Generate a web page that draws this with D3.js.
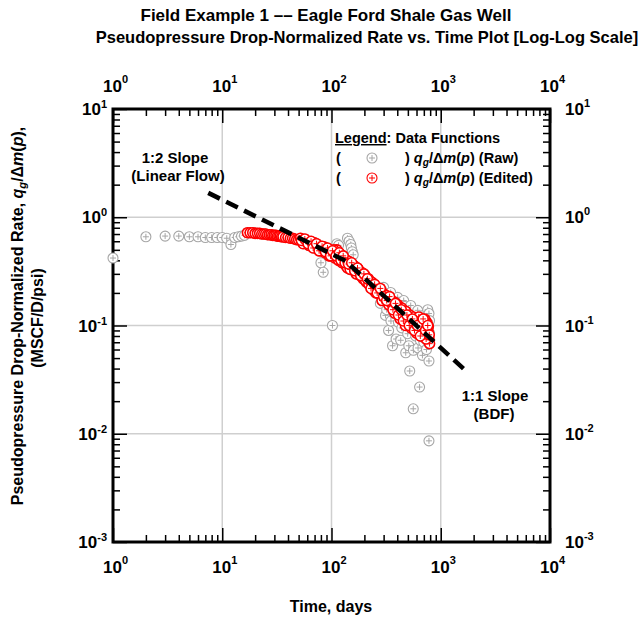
<!DOCTYPE html>
<html>
<head>
<meta charset="utf-8">
<script src="https://cdn.jsdelivr.net/npm/d3@7"></script>
<style>
  body { margin: 0; background: #fff; }
  svg { display: block; font-family: "Liberation Sans", Arial, sans-serif; font-weight: bold; }
</style>
</head>
<body>
<div id="chart"></div>
<script>
'use strict';

// ---- data ----
// raw points that were not kept in the edited set
var rawT = [1, 2, 3, 4, 5, 6, 7, 8, 9, 10, 11, 12, 13, 14, 15, 16,
  80, 84, 102, 112, 116, 140, 145, 150, 152, 155, 158,
  280, 290, 300, 312, 320, 333, 348, 350, 362, 370, 390, 403, 410, 430, 440, 458, 470, 478, 498, 510, 520, 531, 550,
  560, 562, 590, 615, 620, 640, 650, 660, 680, 698, 700, 720, 740, 760, 770, 780, 780, 780, 790, 790];
var rawQ = [0.42, 0.66, 0.67, 0.67, 0.66, 0.66, 0.65, 0.65, 0.65, 0.65, 0.64, 0.56, 0.65, 0.66, 0.67, 0.68,
  0.38, 0.31, 0.10, 0.57, 0.55, 0.64, 0.60, 0.56, 0.52, 0.48, 0.45,
  0.16, 0.19, 0.225, 0.124, 0.14, 0.090, 0.202, 0.11, 0.065, 0.13, 0.075, 0.182, 0.107, 0.073, 0.095, 0.170, 0.15, 0.056, 0.084, 0.065, 0.038, 0.153, 0.11,
  0.017, 0.059, 0.08, 0.138, 0.062, 0.027, 0.073, 0.105, 0.053, 0.124, 0.07, 0.090, 0.06, 0.14, 0.10, 0.129, 0.047, 0.0086, 0.111, 0.085];

// edited points
var editedT = [17, 18, 19, 20, 21, 22, 23, 24, 25, 26, 27, 28, 29, 30, 31, 32, 33, 34, 35, 36, 38, 40, 42, 44, 46, 48, 50,
  52, 54, 56, 58, 60, 63, 66, 69, 72, 75, 78, 81, 84, 87, 90, 93, 96, 100, 104, 108, 112, 116, 120, 125, 130, 135, 140,
  145, 150, 155, 160, 165, 170, 176, 182, 188, 195, 202, 210, 218, 226, 235, 245, 255, 265, 275, 285, 295, 305, 315, 330,
  345, 360, 375, 390, 405, 420, 440, 460, 480, 500, 520, 540, 560, 580, 600, 620, 640, 660, 680, 700, 720, 740, 760,
  780, 790, 770, 750, 730, 710,
  55, 62, 70, 78, 86, 95, 105, 115, 125, 138, 148, 158, 168, 180, 192, 205, 220, 238, 255, 272, 290, 310, 335, 355,
  380, 400, 425, 450, 475, 505, 535, 565, 600, 630, 665, 700, 735, 770,
  53, 57, 61, 65, 68, 73, 77, 82, 88, 92, 98, 102, 110, 118, 122, 128, 133, 143, 153, 163, 173, 185, 198, 213, 230,
  248, 262, 280, 300, 320, 340, 365, 385, 410, 435, 455, 490, 515, 550, 575, 610, 650, 690, 725, 760, 785];
var editedQ = [0.72, 0.72, 0.72, 0.71, 0.71, 0.71, 0.70, 0.70, 0.70, 0.69, 0.69, 0.69, 0.68, 0.68, 0.68, 0.67, 0.67, 0.67, 0.66, 0.66, 0.65, 0.65, 0.64, 0.64, 0.63, 0.62, 0.62,
  0.64, 0.60, 0.62, 0.58, 0.60, 0.56, 0.58, 0.54, 0.55, 0.51, 0.53, 0.50, 0.51, 0.47, 0.49, 0.46, 0.48, 0.45, 0.47, 0.42, 0.50, 0.40, 0.45, 0.38, 0.41, 0.36, 0.34,
  0.39, 0.35, 0.37, 0.33, 0.35, 0.31, 0.33, 0.29, 0.31, 0.27, 0.29, 0.25, 0.27, 0.235, 0.25, 0.21, 0.23, 0.20, 0.215, 0.19, 0.20, 0.175, 0.19, 0.165,
  0.175, 0.15, 0.165, 0.14, 0.155, 0.13, 0.145, 0.12, 0.135, 0.11, 0.125, 0.105, 0.12, 0.10, 0.11, 0.095, 0.105, 0.09, 0.10, 0.085, 0.095, 0.08, 0.09,
  0.075, 0.068, 0.098, 0.105, 0.11, 0.115,
  0.57, 0.55, 0.58, 0.49, 0.53, 0.44, 0.50, 0.46, 0.43, 0.40, 0.33, 0.36, 0.30, 0.31, 0.28, 0.26, 0.24, 0.23, 0.20, 0.21, 0.17, 0.18, 0.155, 0.16,
  0.13, 0.15, 0.115, 0.13, 0.10, 0.115, 0.095, 0.10, 0.085, 0.12, 0.08, 0.11, 0.075, 0.085,
  0.61, 0.63, 0.57, 0.60, 0.52, 0.57, 0.49, 0.54, 0.48, 0.52, 0.44, 0.49, 0.44, 0.47, 0.40, 0.44, 0.38, 0.37, 0.38, 0.32, 0.34, 0.29, 0.30, 0.27, 0.22,
  0.24, 0.20, 0.22, 0.185, 0.17, 0.185, 0.14, 0.16, 0.125, 0.14, 0.11, 0.125, 0.10, 0.115, 0.09, 0.10, 0.08, 0.115, 0.09, 0.10, 0.082];

// straight-line guide (1:2 slope then 1:1 slope)
var slopeT = [7.44, 134, 1770];
var slopeQ = [1.68, 0.396, 0.0367];

var xDecades = [1, 10, 100, 1000, 10000];
var yDecades = [0.001, 0.01, 0.1, 1, 10];

// ---- layout ----
var svgWidth = 639, svgHeight = 621;
var margin = {top: 109, right: 89, bottom: 79, left: 113};
var width = svgWidth - margin.left - margin.right;
var height = svgHeight - margin.top - margin.bottom;

var x = d3.scaleLog().domain([1, 10000]).range([0, width]);
var y = d3.scaleLog().domain([0.001, 10]).range([height, 0]);

var svg = d3.select("#chart").append("svg")
  .attr("width", svgWidth)
  .attr("height", svgHeight);

var g = svg.append("g")
  .attr("transform", "translate(" + margin.left + "," + margin.top + ")");

// minor tick values 2..9 per decade
function minors(decades) {
  var out = [];
  decades.slice(0, -1).forEach(function(d) {
    for (var k = 2; k <= 9; k++) out.push(d * k);
  });
  return out;
}

// grid
g.append("g").selectAll("line").data(xDecades.slice(1, -1)).enter().append("line")
  .attr("x1", function(d) { return x(d); }).attr("x2", function(d) { return x(d); })
  .attr("y1", 0).attr("y2", height)
  .attr("stroke", "#cfcfcf").attr("stroke-width", 1.5);
g.append("g").selectAll("line").data(yDecades.slice(1, -1)).enter().append("line")
  .attr("y1", function(d) { return y(d); }).attr("y2", function(d) { return y(d); })
  .attr("x1", 0).attr("x2", width)
  .attr("stroke", "#cfcfcf").attr("stroke-width", 1.5);

// ticks (inward), drawn with d3 axes, labels added separately
function tickAxis(axisFn, scale, values, size, transform) {
  var a = g.append("g")
    .attr("transform", transform)
    .call(axisFn(scale).tickValues(values).tickSize(-size).tickFormat(""));
  a.select(".domain").remove();
  a.selectAll(".tick line").attr("stroke", "#000").attr("stroke-width", 1.5);
}
[[d3.axisBottom, x, "translate(0," + height + ")"],
 [d3.axisTop, x, "translate(0,0)"],
 [d3.axisLeft, y, "translate(0,0)"],
 [d3.axisRight, y, "translate(" + width + ",0)"]].forEach(function(s) {
  var decs = s[1] === x ? xDecades : yDecades;
  tickAxis(s[0], s[1], minors(decs), 7, s[2]);
  tickAxis(s[0], s[1], decs, 14, s[2]);
});

// frame
g.append("rect")
  .attr("width", width).attr("height", height)
  .attr("fill", "none").attr("stroke", "#000").attr("stroke-width", 3);

// power-of-ten labels
function powLabel(sel, d, anchor, sup) {
  var e = Math.round(Math.log10(d));
  var t = sel.append("text").attr("text-anchor", anchor).attr("fill", "#000");
  t.append("tspan").attr("font-size", 17).text("10");
  t.append("tspan").attr("font-size", 11).attr("dy", sup).text(e);
  return t;
}
xDecades.forEach(function(d) {
  powLabel(g, d, "start", -9).attr("x", x(d) - 10).attr("y", height + 31);
  powLabel(g, d, "start", -9).attr("x", x(d) - 10).attr("y", -17);
});
yDecades.forEach(function(d) {
  powLabel(g, d, "end", -7).attr("x", -6).attr("y", y(d) + 6);
  powLabel(g, d, "start", -8).attr("x", width + 15).attr("y", y(d) + 6);
});

// markers
function marker(sel, cx, cy, color, sw) {
  sel.append("circle").attr("cx", cx).attr("cy", cy).attr("r", 5)
    .attr("fill", "#fff").attr("stroke", color).attr("stroke-width", sw);
  sel.append("path")
    .attr("d", "M" + (cx - 3) + "," + cy + "H" + (cx + 3) + "M" + cx + "," + (cy - 3) + "V" + (cy + 3))
    .attr("stroke", color).attr("stroke-width", 1);
}
var pts = g.append("g");
var grey = "#a6a6a6", red = "#ff0000";
rawT.concat(editedT).forEach(function(t, i) {
  var q = i < rawT.length ? rawQ[i] : editedQ[i - rawT.length];
  marker(pts, x(t), y(q), grey, 1.1);
});
editedT.forEach(function(t, i) { marker(pts, x(t), y(editedQ[i]), red, 1.6); });

// slope guide
var line = d3.line()
  .x(function(d) { return x(d[0]); })
  .y(function(d) { return y(d[1]); });
g.append("path")
  .datum(d3.zip(slopeT, slopeQ))
  .attr("d", line)
  .attr("fill", "none").attr("stroke", "#000")
  .attr("stroke-width", 4.5).attr("stroke-dasharray", "13,7");

// annotations
function label(txt, px, py, size) {
  svg.append("text").attr("x", px).attr("y", py).attr("text-anchor", "middle")
    .attr("font-size", size).text(txt);
}
label("1:2 Slope", 175, 163, 15);
label("(Linear Flow)", 178, 181, 15);
label("1:1 Slope", 495, 401, 15);
label("(BDF)", 494, 419, 15);

// titles
label("Field Example 1 \u2013\u2013 Eagle Ford Shale Gas Well", 326, 21, 17);
label("Pseudopressure Drop-Normalized Rate vs. Time Plot [Log-Log Scale]", 367, 43, 16.5);
label("Time, days", 331, 612, 16);

// y label with italic symbols
function rateText(t) {
  t.append("tspan").attr("font-style", "italic").text("q");
  t.append("tspan").attr("font-style", "italic").attr("font-size", "0.7em").attr("dy", 3).text("g");
  t.append("tspan").attr("dy", -3).text("/\u0394");
  t.append("tspan").attr("font-style", "italic").text("m");
  t.append("tspan").text("(");
  t.append("tspan").attr("font-style", "italic").text("p");
  t.append("tspan").text(")");
}
var yl = svg.append("text").attr("font-size", 16).attr("text-anchor", "middle")
  .attr("transform", "translate(23,316) rotate(-90)");
yl.append("tspan").text("Pseudopressure Drop-Normalized Rate, ");
rateText(yl);
yl.append("tspan").text(",");
svg.append("text").attr("font-size", 16).attr("text-anchor", "middle")
  .attr("transform", "translate(43,318) rotate(-90)")
  .text("(MSCF/D/psi)");

// legend
var lg = svg.append("g").attr("font-size", 14.5);
var lt = lg.append("text").attr("x", 335).attr("y", 143);
lt.append("tspan").attr("text-decoration", "underline").text("Legend");
lt.append("tspan").text(": Data Functions");
[["(Raw)", grey, 158, 1.1], ["(Edited)", red, 178, 1.1]].forEach(function(r) {
  lg.append("text").attr("x", 336).attr("y", r[2] + 5).text("(");
  marker(lg, 372, r[2], r[1], r[3]);
  var t = lg.append("text").attr("x", 405).attr("y", r[2] + 5);
  t.append("tspan").text(") ");
  rateText(t);
  t.append("tspan").text(" " + r[0]);
});
</script>
</body>
</html>
